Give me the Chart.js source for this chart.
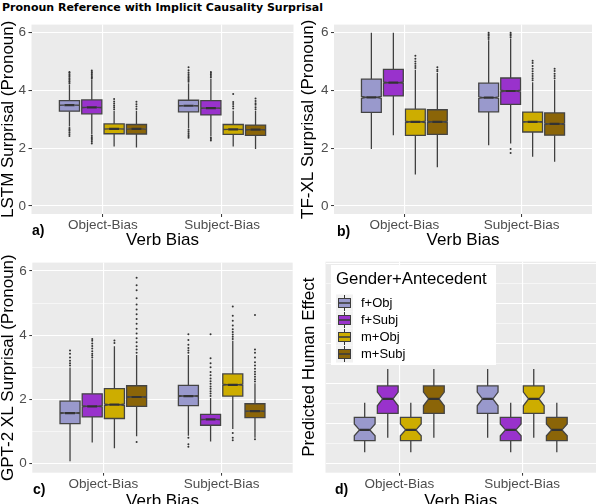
<!DOCTYPE html>
<html><head><meta charset="utf-8">
<script src="https://cdn.jsdelivr.net/npm/chart.js@4"></script>
<style>
html,body{margin:0;padding:0;width:596px;height:504px;overflow:hidden;background:#fff;font-family:'Liberation Sans',Arial,sans-serif;}
canvas{position:absolute;}
.lbl{position:absolute;font-weight:bold;font-size:14px;line-height:16px;color:#000;white-space:nowrap;}
#title{position:absolute;left:2px;top:1px;font-family:'DejaVu Sans',sans-serif;font-weight:bold;font-size:11px;line-height:14px;white-space:nowrap;color:#000;}
</style></head><body>
<div id="title">Pronoun Reference with Implicit Causality Surprisal</div>
<canvas id="ca" width="298" height="236" style="left:0;top:14px;width:298px;height:236px"></canvas>
<canvas id="cb" width="296" height="236" style="left:300px;top:14px;width:296px;height:236px"></canvas>
<canvas id="cc" width="298" height="256" style="left:0;top:252px;width:298px;height:256px"></canvas>
<canvas id="cd" width="296" height="256" style="left:300px;top:252px;width:296px;height:256px"></canvas>
<div class="lbl" style="left:32px;top:222px">a)</div>
<div class="lbl" style="left:337px;top:223px">b)</div>
<div class="lbl" style="left:33px;top:481px">c)</div>
<div class="lbl" style="left:335px;top:481px">d)</div>
<script>
// ---------- data ----------
const categories = ['Object-Bias', 'Subject-Bias'];
const groups = ['f+Obj', 'f+Subj', 'm+Obj', 'm+Subj'];
const groupColors = ['#9999CC', '#9932CC', '#CDAD00', '#8B6508'];
const surprisalMajor = [0, 2, 4, 6];
const surprisalMinorC = [1, 3, 5];
const humanMajor = [0, 2, 4, 6, 8, 10];
const humanMinor = [1, 3, 5, 7, 9];

// order: Object-Bias (f+Obj, f+Subj, m+Obj, m+Subj), Subject-Bias (f+Obj, f+Subj, m+Obj, m+Subj)
// (a) LSTM
const lstmLow    = [2.75, 2.47, 2.06, 2.02, 2.68, 2.40, 2.06, 1.97];
const lstmQ1     = [3.28, 3.19, 2.50, 2.49, 3.26, 3.15, 2.48, 2.44];
const lstmMedian = [3.49, 3.41, 2.67, 2.67, 3.47, 3.39, 2.65, 2.64];
const lstmQ3     = [3.65, 3.67, 2.84, 2.82, 3.66, 3.65, 2.82, 2.80];
const lstmHigh   = [4.20, 4.39, 3.30, 3.30, 4.25, 4.40, 3.30, 3.30];
const lstmOutliers = [
  [4.24, 4.29, 4.33, 4.38, 4.42, 4.47, 4.52, 4.56, 4.61, 4.64, 2.70, 2.65, 2.60, 2.54, 2.48, 2.42],
  [4.42, 4.46, 4.50, 4.55, 4.60, 4.64, 4.69, 2.43, 2.38, 2.33, 2.28, 2.22, 2.16],
  [3.35, 3.42, 3.48, 3.55, 3.62, 3.70],
  [3.36, 3.44, 3.52, 3.61],
  [4.30, 4.35, 4.40, 4.45, 4.50, 4.56, 4.62, 4.70, 4.80, 2.64, 2.58, 2.52, 2.46, 2.41, 2.36],
  [4.45, 4.50, 4.55, 4.60, 4.64, 2.36, 2.32, 2.27],
  [3.37, 3.45, 3.53, 3.60, 3.88],
  [3.35, 3.42, 3.50, 3.56, 3.63, 3.72]
];
// (b) TF-XL
const tfxlLow    = [1.97, 2.45, 1.09, 1.34, 2.10, 2.16, 1.70, 1.53];
const tfxlQ1     = [3.24, 3.81, 2.44, 2.48, 3.26, 3.52, 2.56, 2.45];
const tfxlMedian = [3.76, 4.27, 2.91, 2.91, 3.75, 3.98, 2.91, 2.84];
const tfxlQ3     = [4.39, 4.73, 3.35, 3.33, 4.25, 4.43, 3.25, 3.22];
const tfxlHigh   = [6.00, 6.00, 4.72, 4.60, 5.74, 5.80, 4.28, 4.37];
const tfxlOutliers = [
  [],
  [],
  [4.78, 4.85, 4.92, 5.00, 5.10, 5.20],
  [4.66, 4.72, 4.80],
  [5.78, 5.84, 5.90, 5.95, 6.00],
  [5.84, 5.90, 5.95, 6.00, 1.97, 1.83],
  [4.35, 4.42, 4.50, 4.58, 4.66, 4.75, 4.85, 4.95, 5.03],
  [4.42, 4.50, 4.58, 4.67, 4.75]
];
// (c) GPT-2 XL
const gpt2Low    = [0.07, 0.65, 0.47, 0.85, 0.86, 0.68, 1.07, 0.80];
const gpt2Q1     = [1.24, 1.45, 1.40, 1.78, 1.80, 1.19, 2.10, 1.43];
const gpt2Median = [1.57, 1.78, 1.83, 2.07, 2.10, 1.37, 2.45, 1.63];
const gpt2Q3     = [1.94, 2.17, 2.33, 2.42, 2.43, 1.53, 2.79, 1.86];
const gpt2High   = [2.99, 3.25, 3.65, 3.38, 3.38, 2.04, 3.82, 2.50];
const gpt2Outliers = [
  [3.05, 3.12, 3.20, 3.30, 3.42, 3.52],
  [3.30, 3.36, 3.42, 3.50, 3.58, 3.66, 3.74, 3.82, 3.88],
  [3.75, 3.83],
  [3.45, 3.55, 3.65, 3.78, 3.90, 4.05, 4.20, 4.35, 4.50, 4.65, 4.80, 4.95, 5.15, 5.40, 5.55, 5.79, 0.67],
  [3.45, 3.52, 3.60, 3.70, 3.85, 4.03, 0.80, 0.60, 0.52],
  [2.10, 2.18, 2.25, 2.33, 2.40, 2.48, 2.56, 2.65, 2.75, 2.85, 3.00, 3.12, 3.28, 4.03],
  [3.88, 3.95, 4.02, 4.10, 4.18, 4.30, 4.45, 4.60, 4.89, 0.95, 0.80, 0.72],
  [2.55, 2.62, 2.70, 2.78, 2.86, 2.95, 3.05, 3.15, 3.30, 3.45, 3.55, 4.63, 0.75]
];
// (d) Predicted human effect (arbitrary units)
const humanLow    = [0.55, 1.28, 0.55, 1.28, 1.28, 0.55, 1.28, 0.55];
const humanQ1     = [1.13, 2.50, 1.13, 2.50, 2.50, 1.13, 2.50, 1.13];
const humanMedian = [1.67, 3.22, 1.67, 3.22, 3.22, 1.67, 3.22, 1.67];
const humanQ3     = [2.30, 3.87, 2.30, 3.87, 3.87, 2.30, 3.87, 2.30];
const humanHigh   = [3.03, 4.72, 3.03, 4.72, 4.72, 3.03, 4.72, 3.03];
const humanOutliers = [[], [], [], [], [], [], [], []];

// ---------- drawing ----------
const FONT = "'Liberation Sans', Arial, sans-serif";
const dodge = 0.1875, boxW = 0.169;
function xPos(ci, gi) { return ci + 1 + (gi - 1.5) * dodge; }

function boxPlugin(st) {
  return {
    id: 'boxes',
    beforeDraw(chart) {
      const a = chart.chartArea, ctx = chart.ctx;
      ctx.save(); ctx.fillStyle = '#EBEBEB';
      ctx.fillRect(a.left, a.top, a.right - a.left, a.bottom - a.top); ctx.restore();
    },
    beforeDatasetsDraw(chart) {
      const ctx = chart.ctx, xs = chart.scales.x, ys = chart.scales.y, a = chart.chartArea;
      ctx.save();
      ctx.beginPath(); ctx.rect(a.left, a.top, a.right - a.left, a.bottom - a.top); ctx.clip();
      for (let i = 0; i < st.q1.length; i++) {
        const ci = Math.floor(i / groups.length), gi = i % groups.length;
        const xc = xPos(ci, gi);
        const px = xs.getPixelForValue(xc);
        const pl = xs.getPixelForValue(xc - boxW / 2), pr = xs.getPixelForValue(xc + boxW / 2);
        const q1 = st.q1[i], q3 = st.q3[i], md = st.med[i];
        const nh = 1.58 * (q3 - q1) / Math.sqrt(st.n);
        const y = v => ys.getPixelForValue(v);
        const inset = (pr - pl) * 0.25;
        ctx.strokeStyle = '#404040'; ctx.lineWidth = 1.3;
        ctx.beginPath();
        ctx.moveTo(px, y(q3)); ctx.lineTo(px, y(st.high[i]));
        ctx.moveTo(px, y(q1)); ctx.lineTo(px, y(st.low[i]));
        ctx.stroke();
        ctx.beginPath();
        ctx.moveTo(pl, y(q3)); ctx.lineTo(pl, y(md + nh)); ctx.lineTo(pl + inset, y(md));
        ctx.lineTo(pl, y(md - nh)); ctx.lineTo(pl, y(q1)); ctx.lineTo(pr, y(q1));
        ctx.lineTo(pr, y(md - nh)); ctx.lineTo(pr - inset, y(md)); ctx.lineTo(pr, y(md + nh));
        ctx.lineTo(pr, y(q3)); ctx.closePath();
        ctx.fillStyle = groupColors[gi]; ctx.fill();
        ctx.strokeStyle = '#444444'; ctx.lineWidth = 1.3; ctx.stroke();
        ctx.beginPath(); ctx.lineWidth = 2.2; ctx.strokeStyle = '#333333';
        ctx.moveTo(pl + inset, y(md)); ctx.lineTo(pr - inset, y(md)); ctx.stroke();
      }
      ctx.restore();
    }
  };
}

const legendPlugin = {
  id: 'boxLegend',
  afterDraw(chart) {
    const ctx = chart.ctx;
    ctx.save();
    ctx.fillStyle = '#ffffff';
    ctx.fillRect(31, 13, 165, 100);
    ctx.fillStyle = '#000000';
    ctx.font = "16.8px " + FONT; ctx.textBaseline = 'middle'; ctx.textAlign = 'left';
    ctx.fillText('Gender+Antecedent', 36, 27.5);
    groups.forEach((g, i) => {
      const cy = 51 + i * 17;
      ctx.fillStyle = '#F2F2F2'; ctx.fillRect(36, cy - 8.5, 17, 17);
      ctx.strokeStyle = '#333333'; ctx.lineWidth = 1;
      ctx.beginPath(); ctx.moveTo(44.5, cy - 8); ctx.lineTo(44.5, cy + 8); ctx.stroke();
      ctx.fillStyle = groupColors[i]; ctx.fillRect(38.5, cy - 4.5, 12, 9);
      ctx.strokeStyle = '#3d3d3d'; ctx.strokeRect(38.5, cy - 4.5, 12, 9);
      ctx.lineWidth = 1.6; ctx.beginPath(); ctx.moveTo(38.5, cy); ctx.lineTo(50.5, cy); ctx.stroke();
      ctx.fillStyle = '#000000'; ctx.font = "13px " + FONT;
      ctx.fillText(g, 61, cy + 0.5);
    });
    ctx.restore();
  }
};

function makePanel(id, p) {
  const ticks = p.major.concat(p.minor).sort((a, b) => a - b);
  const datasets = groups.map((g, gi) => {
    const pts = [];
    categories.forEach((c, ci) => {
      p.out[ci * groups.length + gi].forEach(v => pts.push({ x: xPos(ci, gi), y: v }));
    });
    return { label: g, data: pts, pointRadius: 1.0, pointBackgroundColor: '#333333',
             pointBorderWidth: 0, showLine: false };
  });
  const plugins = [boxPlugin({ low: p.low, q1: p.q1, med: p.med, q3: p.q3, high: p.high, n: p.n })];
  if (p.legend) plugins.push(legendPlugin);
  return new Chart(document.getElementById(id), {
    type: 'scatter',
    data: { datasets },
    plugins,
    options: {
      responsive: false, animation: false, events: [],
      layout: { padding: { left: 0, top: p.padTop, right: p.padRight, bottom: 0 } },
      plugins: { legend: { display: false }, tooltip: { enabled: false } },
      scales: {
        x: {
          type: 'linear', min: 0.4, max: 2.6,
          afterBuildTicks: s => { s.ticks = categories.map((c, i) => ({ value: i + 1 })); },
          afterFit: s => { s.height = p.xHeight; },
          ticks: { callback: v => categories[Math.round(v) - 1] || '', autoSkip: false, maxRotation: 0,
                   font: { family: FONT, size: 13.5 }, color: '#4D4D4D', padding: 0 },
          grid: { color: '#FFFFFF', lineWidth: 1.1, tickLength: 3, tickColor: '#333333', tickWidth: 1 },
          border: { display: false },
          title: { display: true, text: 'Verb Bias', color: '#000000',
                   font: { family: FONT, size: 17, lineHeight: 1 }, padding: { top: 0, bottom: p.xTitlePad } }
        },
        y: {
          type: 'linear', min: p.yMin, max: p.yMax,
          afterBuildTicks: s => { s.ticks = ticks.map(v => ({ value: v })); },
          afterFit: s => { s.width = p.yWidth; },
          ticks: { display: p.showYLabels, autoSkip: false,
                   callback: v => p.major.includes(v) ? String(v) : '',
                   font: { family: FONT, size: 13.5 }, color: '#4D4D4D', padding: 2.5 },
          grid: { color: '#FFFFFF',
                  lineWidth: c => (c.tick && p.major.includes(c.tick.value)) ? 1.1 : 0.55,
                  drawTicks: p.showYLabels, tickLength: 3,
                  tickColor: c => (c.tick && p.major.includes(c.tick.value)) ? '#333333' : 'rgba(0,0,0,0)',
                  tickWidth: 1 },
          border: { display: false },
          title: { display: true, text: p.yTitle, color: '#000000',
                   font: { family: FONT, size: 17, lineHeight: 1 }, padding: { top: p.yTitlePad, bottom: 0 } }
        }
      }
    }
  });
}

makePanel('ca', { low: lstmLow, q1: lstmQ1, med: lstmMedian, q3: lstmQ3, high: lstmHigh, out: lstmOutliers,
  n: 3000, yMin: -0.28, yMax: 6.28, major: surprisalMajor, minor: [], showYLabels: true,
  yTitle: 'LSTM Surprisal (Pronoun)', padTop: 8, padRight: 4.5, yWidth: 31.5, xHeight: 36,
  yTitlePad: 0, xTitlePad: 1.5 });
makePanel('cb', { low: tfxlLow, q1: tfxlQ1, med: tfxlMedian, q3: tfxlQ3, high: tfxlHigh, out: tfxlOutliers,
  n: 3000, yMin: -0.28, yMax: 6.28, major: surprisalMajor, minor: [], showYLabels: true,
  yTitle: 'TF-XL Surprisal (Pronoun)', padTop: 8, padRight: 0, yWidth: 34, xHeight: 36,
  yTitlePad: 0.3, xTitlePad: 1.5 });
makePanel('cc', { low: gpt2Low, q1: gpt2Q1, med: gpt2Median, q3: gpt2Q3, high: gpt2High, out: gpt2Outliers,
  n: 3000, yMin: -0.29, yMax: 6.26, major: surprisalMajor, minor: surprisalMinorC, showYLabels: true,
  yTitle: 'GPT-2 XL Surprisal (Pronoun)', padTop: 9.7, padRight: 5.3, yWidth: 32.3, xHeight: 35.3,
  yTitlePad: 0, xTitlePad: -2 });
makePanel('cd', { low: humanLow, q1: humanQ1, med: humanMedian, q3: humanQ3, high: humanHigh, out: humanOutliers,
  n: 40, yMin: -0.47, yMax: 10.08, major: humanMajor, minor: humanMinor, showYLabels: false,
  yTitle: 'Predicted Human Effect', padTop: 9.7, padRight: 0, yWidth: 25.5, xHeight: 35.3,
  yTitlePad: 1, xTitlePad: -2, legend: true });
</script>
</body></html>
